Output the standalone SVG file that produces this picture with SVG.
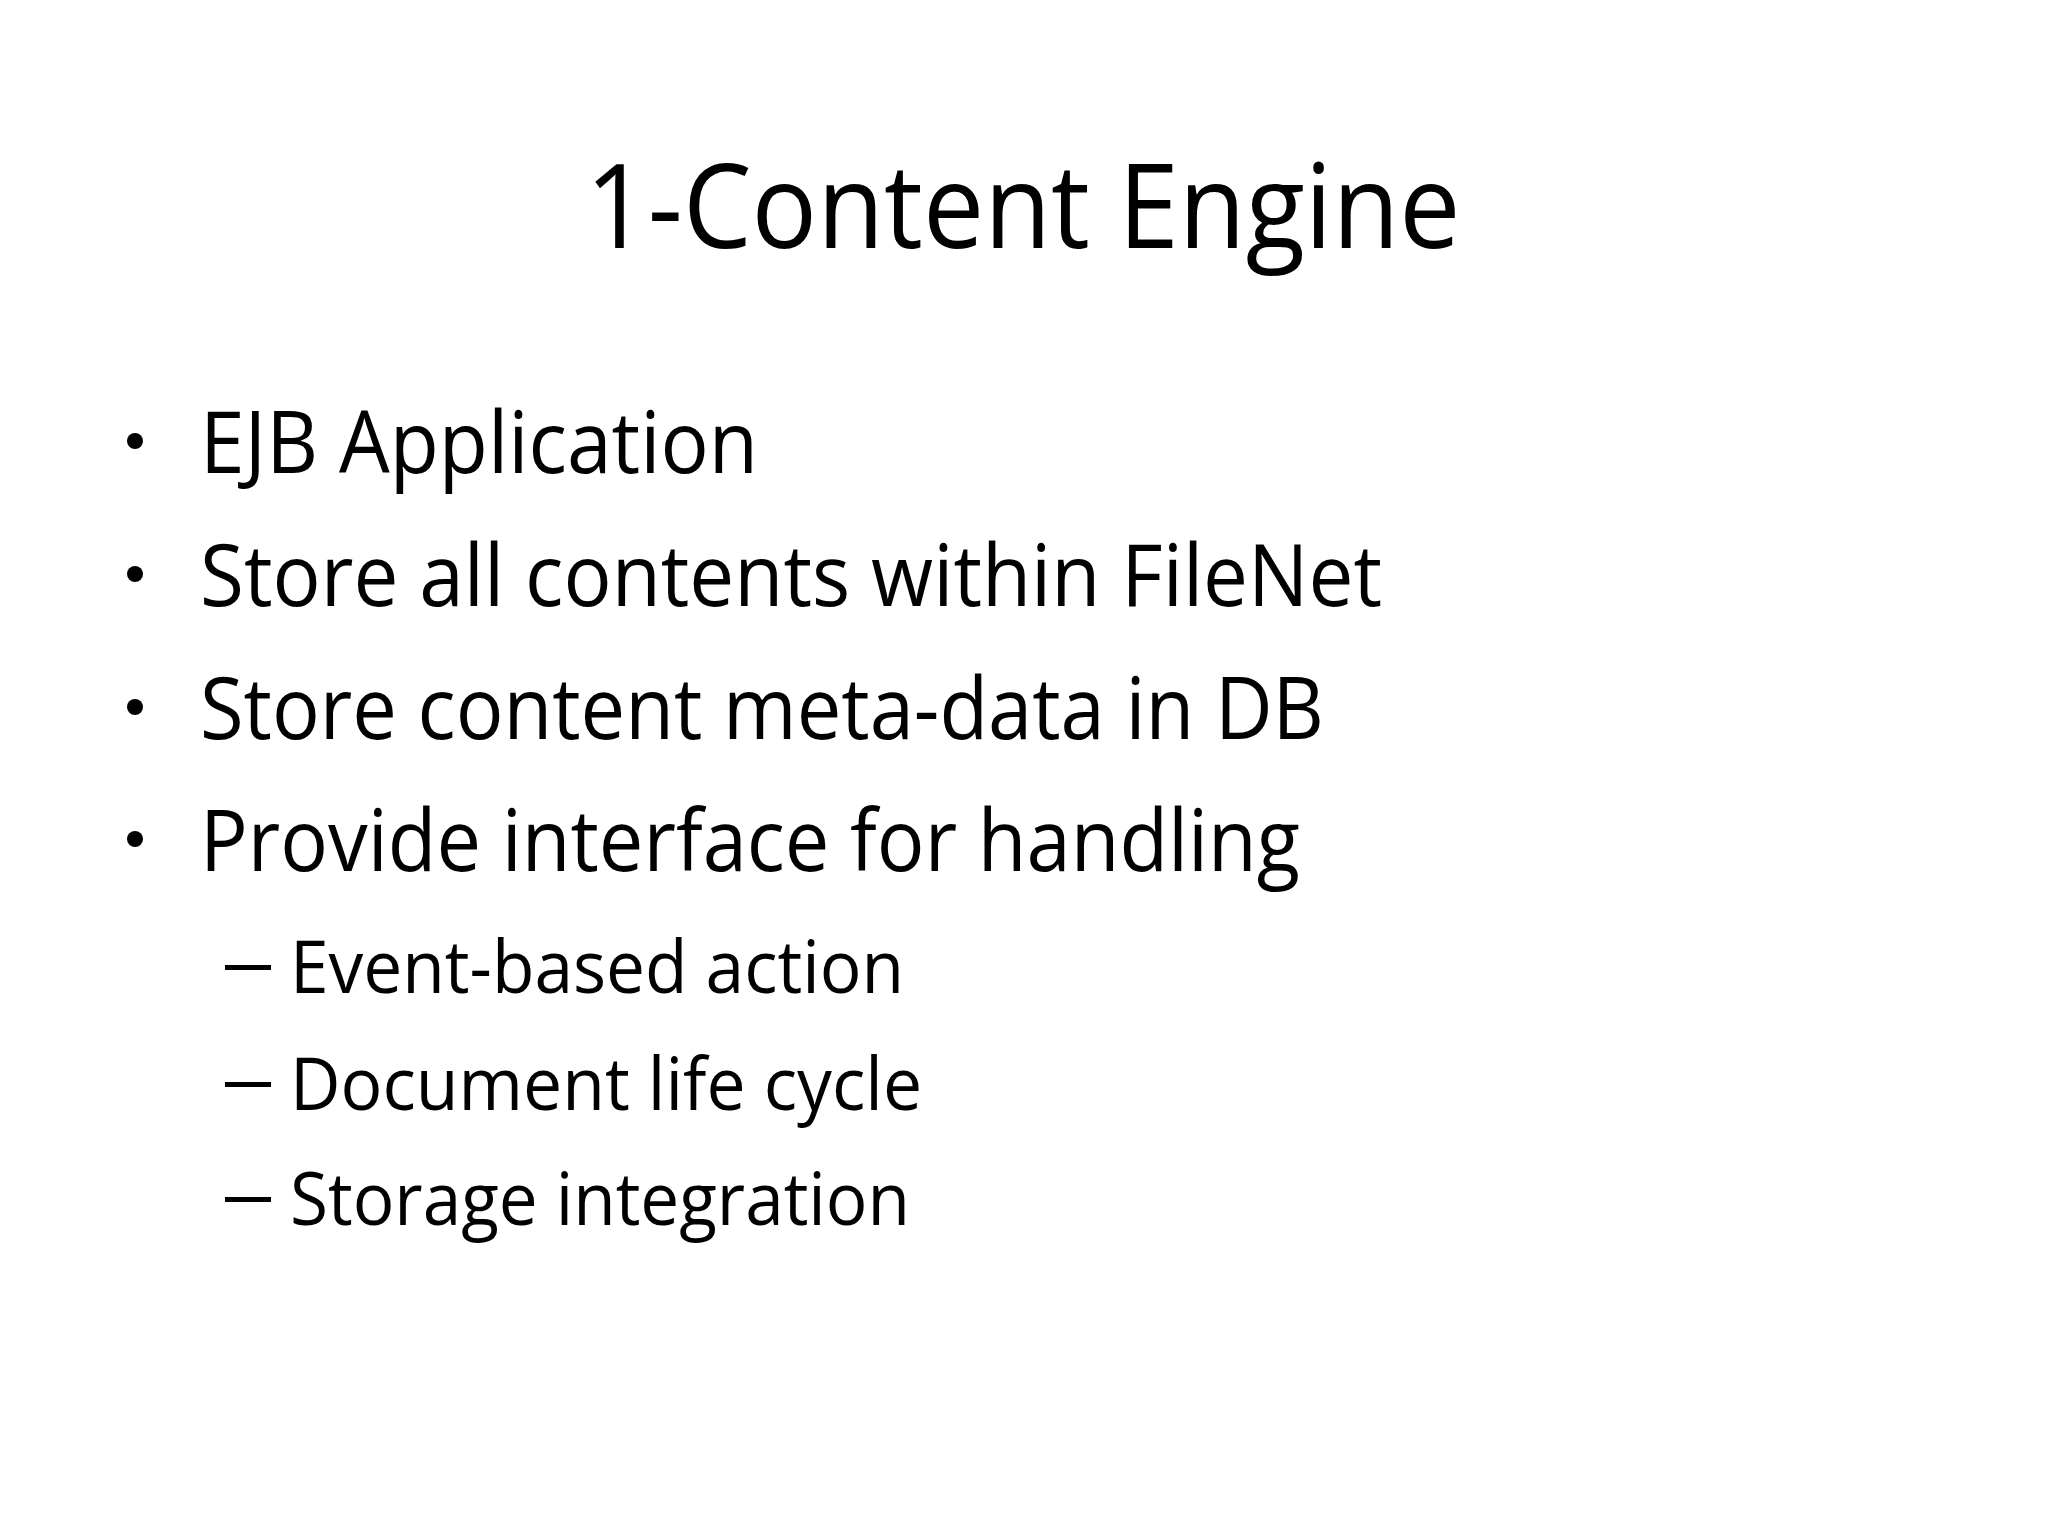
<svg xmlns="http://www.w3.org/2000/svg" width="2048" height="1536" viewBox="0 0 2048 1536">
<style>
text{font-family:"Open Sans","Liberation Sans",sans-serif;fill:#000}
.t{font-size:118px}
.b{font-size:86px}
.s{font-size:74px}
</style>
<rect width="2048" height="1536" fill="#fff"/>
<text class="t" x="1023" y="248" text-anchor="middle" textLength="875" lengthAdjust="spacingAndGlyphs">1-Content Engine</text>
<g class="b">
<circle cx="135" cy="441" r="8"/><text class="b" x="200" y="473" textLength="558" lengthAdjust="spacingAndGlyphs">EJB Application</text>
<circle cx="135" cy="574" r="8"/><text class="b" x="200" y="606" textLength="1182" lengthAdjust="spacingAndGlyphs">Store all contents within FileNet</text>
<circle cx="135" cy="707" r="8"/><text class="b" x="200" y="739" textLength="1124" lengthAdjust="spacingAndGlyphs">Store content meta-data in DB</text>
<circle cx="135" cy="839" r="8"/><text class="b" x="200" y="871" textLength="1100" lengthAdjust="spacingAndGlyphs">Provide interface for handling</text>
</g>
<g>
<rect x="225" y="965" width="46" height="5"/><text class="s" x="290" y="993" textLength="614" lengthAdjust="spacingAndGlyphs">Event-based action</text>
<rect x="225" y="1082" width="46" height="5"/><text class="s" x="290" y="1110" textLength="632" lengthAdjust="spacingAndGlyphs">Document life cycle</text>
<rect x="225" y="1197" width="46" height="5"/><text class="s" x="290" y="1225" textLength="620" lengthAdjust="spacingAndGlyphs">Storage integration</text>
</g>
</svg>
